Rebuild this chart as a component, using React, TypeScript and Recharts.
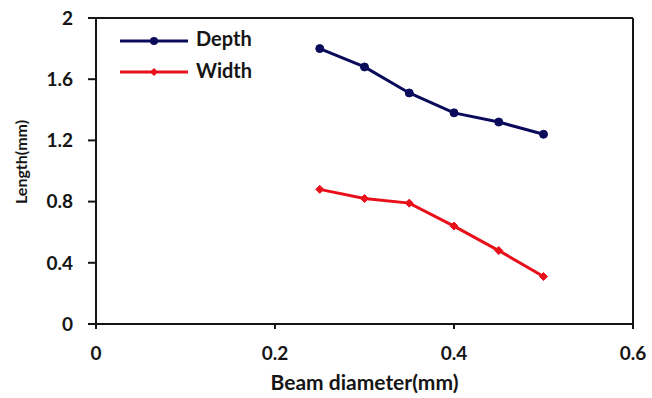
import React from 'react';
import { LineChart, Line, XAxis, YAxis, ReferenceLine, Label } from 'recharts';

const beamDiameter = [0.25, 0.3, 0.35, 0.4, 0.45, 0.5];
const depthValues = [1.8, 1.68, 1.51, 1.38, 1.32, 1.24];
const widthValues = [0.88, 0.82, 0.79, 0.64, 0.48, 0.31];
const xTicks = [0, 0.2, 0.4, 0.6];
const yTicks = [0, 0.4, 0.8, 1.2, 1.6, 2];

const data = beamDiameter.map((x, i) => ({ x, depth: depthValues[i], width: widthValues[i] }));

const FONT = 'Lato, "Open Sans", sans-serif';
const NAVY = '#0b0b5c';
const RED = '#e8101a';
const INK = '#151515';

const Diamond = (props: any) => {
  const { cx, cy } = props;
  if (cx == null || cy == null) return null;
  const r = 4;
  return <path d={`M${cx},${cy - r}L${cx + r},${cy}L${cx},${cy + r}L${cx - r},${cy}Z`} fill={RED} stroke={RED} strokeWidth={1} />;
};

const YLabel = (props: any) => {
  const vb = props.viewBox || {};
  const x = (vb.x ?? 16) + 5;
  const y = (vb.y ?? 18) + (vb.height ?? 306) / 2 - 9;
  return (
    <text
      x={x}
      y={y}
      transform={`rotate(-90, ${x}, ${y})`}
      textAnchor="middle"
      dy="0.36em"
      style={{ fill: INK, fontFamily: FONT, fontWeight: 700, fontSize: 16 }}
    >
      Length(mm)
    </text>
  );
};

const LegendBox = () => (
  <svg width={652} height={398} style={{ position: 'absolute', left: 0, top: 0, pointerEvents: 'none' }}>
    <line x1={120} y1={41} x2={188} y2={41} stroke={NAVY} strokeWidth={3} />
    <circle cx={154} cy={41} r={4} fill={NAVY} />
    <text x={196} y={46} fontFamily={FONT} fontWeight={700} fontSize={20} fill={INK}>Depth</text>
    <line x1={120} y1={72} x2={188} y2={72} stroke={RED} strokeWidth={3} />
    <path d="M154,68L158,72L154,76L150,72Z" fill={RED} />
    <text x={196} y={78} fontFamily={FONT} fontWeight={700} fontSize={20} fill={INK}>Width</text>
  </svg>
);

export default function App() {
  return (
    <div style={{ position: 'absolute', left: 0, top: 0, width: 652, height: 398, background: '#fff' }}>
      <LineChart width={652} height={398} data={data} margin={{ top: 18, right: 19, bottom: 10, left: 16 }}>
        <XAxis
          dataKey="x"
          type="number"
          domain={[0, 0.6]}
          ticks={xTicks}
          tickFormatter={(v: number) => String(v)}
          height={64}
          stroke={INK}
          strokeWidth={2}
          tickSize={5}
          tickMargin={18}
          tick={{ fill: INK, fontFamily: FONT, fontWeight: 700, fontSize: 19 }}
        >
          <Label value="Beam diameter(mm)" position="insideBottom" offset={-2} style={{ fill: INK, fontFamily: FONT, fontWeight: 700, fontSize: 21 }} />
        </XAxis>
        <YAxis
          type="number"
          domain={[0, 2]}
          ticks={yTicks}
          tickFormatter={(v: number) => String(v)}
          width={80}
          stroke={INK}
          strokeWidth={2}
          tickSize={8}
          tickMargin={15}
          tick={{ fill: INK, fontFamily: FONT, fontWeight: 700, fontSize: 19 }}
        >
          <Label content={<YLabel />} />
        </YAxis>
        <ReferenceLine y={2} stroke={INK} strokeWidth={2} />
        <ReferenceLine x={0.6} stroke={INK} strokeWidth={2} />
        <Line dataKey="depth" stroke={NAVY} strokeWidth={3} dot={{ r: 4, fill: NAVY, stroke: NAVY, strokeWidth: 1 }} isAnimationActive={false} />
        <Line dataKey="width" stroke={RED} strokeWidth={3} dot={<Diamond />} isAnimationActive={false} />
      </LineChart>
      <LegendBox />
    </div>
  );
}
